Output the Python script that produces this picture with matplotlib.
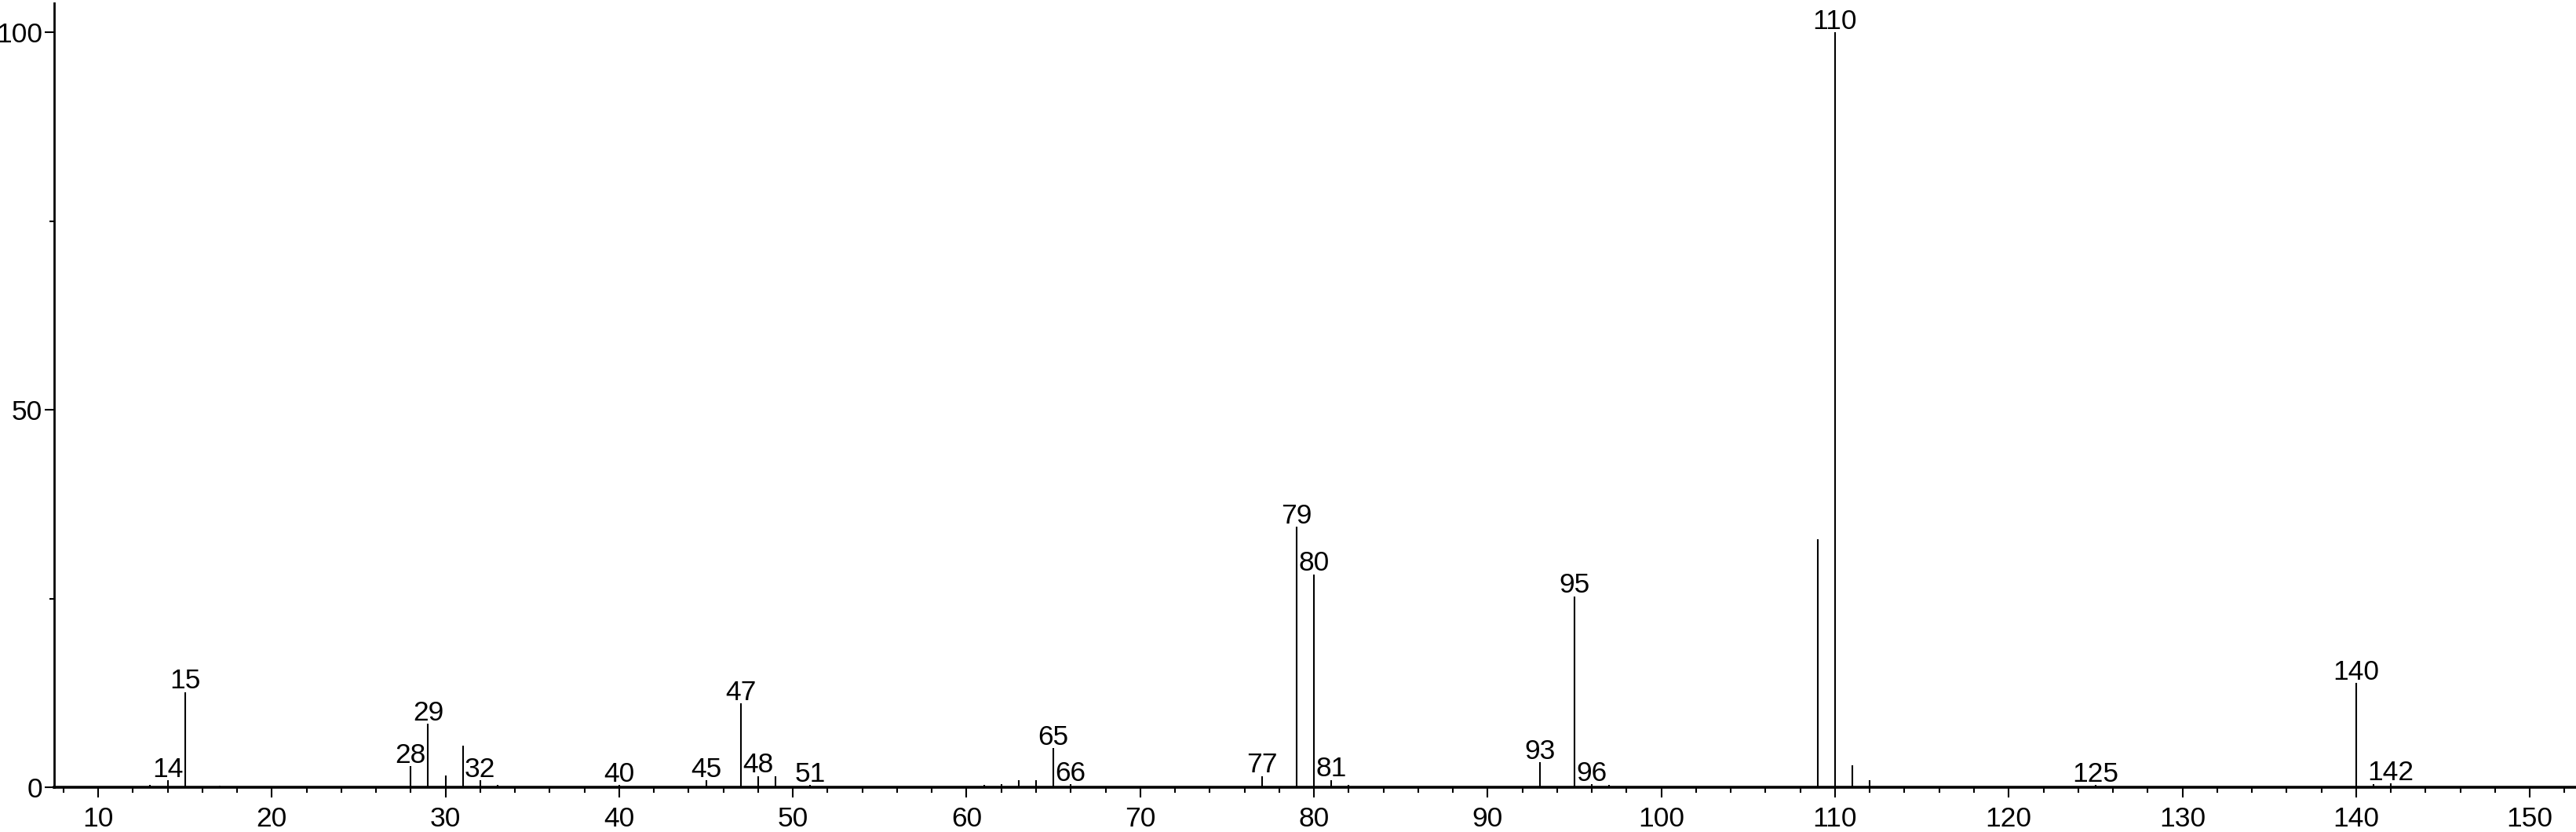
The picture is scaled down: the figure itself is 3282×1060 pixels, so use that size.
import matplotlib
matplotlib.use("Agg")
import matplotlib.pyplot as plt
from matplotlib.ticker import MultipleLocator

plt.rcParams['font.family'] = ['Liberation Sans', 'DejaVu Sans']

# m/z and relative intensity (%)
mz = [13, 14, 15, 17, 28, 29, 30, 31, 32, 33, 40, 45, 47, 48, 49, 51,
      61, 62, 63, 64, 65, 66, 77, 79, 80, 81, 82, 93, 95, 96, 97,
      109, 110, 111, 112, 125, 140, 141, 142]
intensity = [0.3, 0.9, 12.6, 0.25, 2.8, 8.4, 1.6, 5.5, 0.9, 0.3, 0.3, 0.9, 11.1, 1.5, 1.5, 0.3,
             0.3, 0.4, 0.9, 0.9, 5.2, 0.4, 1.5, 34.5, 28.2, 0.95, 0.3, 3.3, 25.3, 0.4, 0.3,
             32.8, 100.0, 2.9, 0.9, 0.3, 13.8, 0.4, 0.5]
labelled = [14, 15, 28, 29, 32, 40, 45, 47, 48, 51, 65, 66, 77, 79, 80, 81,
            93, 95, 96, 110, 125, 140, 142]

W, H = 3282, 1060
fig = plt.figure(figsize=(W / 100, H / 100), dpi=100)
ax = fig.add_axes([69 / W, 57 / H, 1 - 69 / W, (1003 - 4) / H])

ax.vlines(mz, 0, intensity, color='black', lw=1.5)

peak = dict(zip(mz, intensity))
for m in labelled:
    ax.annotate(str(m), (m, peak[m]), xytext=(0, 3.2), textcoords='offset points',
                ha='center', va='baseline', fontsize=25.5)

ax.set_xlim(7.47, 152.66)
ax.set_ylim(0, 103.85)

for s in ['top', 'right']:
    ax.spines[s].set_visible(False)
ax.spines['bottom'].set_linewidth(2.6)
ax.spines['left'].set_linewidth(2.0)

ax.xaxis.set_major_locator(MultipleLocator(10))
ax.xaxis.set_minor_locator(MultipleLocator(2))
ax.yaxis.set_major_locator(MultipleLocator(50))
ax.yaxis.set_minor_locator(MultipleLocator(25))

ax.tick_params(axis='x', which='major', length=9.4, width=1.5, pad=8, labelsize=25.5)
ax.tick_params(axis='x', which='minor', length=5, width=1.5)
ax.tick_params(axis='y', which='major', length=8.6, width=1.5, pad=2, labelsize=25.5)
ax.tick_params(axis='y', which='minor', length=4, width=1.5)

fig.savefig('out.png', dpi=100)
